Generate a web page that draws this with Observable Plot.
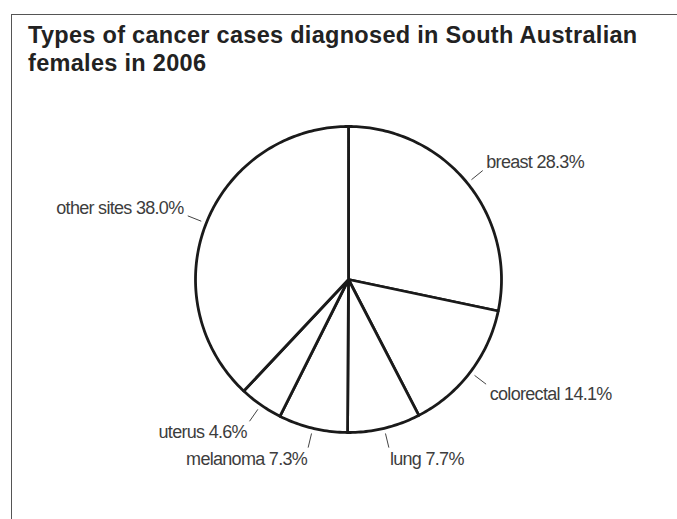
<!DOCTYPE html>
<html>
<head>
<meta charset="utf-8">
<script src="https://cdn.jsdelivr.net/npm/d3@7"></script>
<script src="https://cdn.jsdelivr.net/npm/@observablehq/plot@0.6"></script>
<style>
  html, body { margin: 0; padding: 0; background: #fff; }
  body { width: 677px; height: 519px; position: relative; overflow: hidden; font-family: "Liberation Sans", Arial, sans-serif; }
  #frame { position: absolute; left: 11px; top: 14px; width: 700px; height: 520px; border-left: 1.5px solid #555; border-top: 1.5px solid #555; box-sizing: border-box; }
  #title { position: absolute; left: 28px; top: 20.5px; font-weight: bold; font-size: 23.5px; line-height: 28px; color: #222; letter-spacing: 0.3px; white-space: nowrap; }
  #chart { position: absolute; left: 0; top: 80px; }
</style>
</head>
<body>
<div id="frame"></div>
<div id="title">Types of cancer cases diagnosed in South Australian<br>females in 2006</div>
<div id="chart"></div>
<script>
const categories = ["breast", "colorectal", "lung", "melanoma", "uterus", "other sites"];
const percents = [28.3, 14.1, 7.7, 7.3, 4.6, 38.0];

const data = categories.map((c, i) => ({name: c, value: percents[i]}));
const arcs = d3.pie().sort(null).value(d => d.value)(data);

// slice outlines (center -> arc -> center), from the pie angles
const slicePts = [];
arcs.forEach(a => {
  const n = Math.max(2, Math.ceil((a.endAngle - a.startAngle) / (Math.PI / 180)));
  slicePts.push({name: a.data.name, x: 0, y: 0});
  for (let k = 0; k <= n; k++) {
    const t = a.startAngle + (a.endAngle - a.startAngle) * k / n;
    slicePts.push({name: a.data.name, x: Math.sin(t), y: Math.cos(t)});
  }
});

const labels = arcs.map(a => {
  const m = (a.startAngle + a.endAngle) / 2;
  return {
    name: a.data.name,
    text: `${a.data.name} ${a.data.value.toFixed(1)}%`,
    x1: 1.035 * Math.sin(m), y1: 1.035 * Math.cos(m),
    x2: 1.13 * Math.sin(m), y2: 1.13 * Math.cos(m),
    tx: 1.16 * Math.sin(m), ty: 1.16 * Math.cos(m),
    right: Math.sin(m) >= 0,
    upper: Math.cos(m) >= 0
  };
});

const cx = 348, cy = 199, R = 153;
const H = 439;

const textOpts = {x: "tx", y: "ty", text: "text", fontSize: 18, fill: "#3d3d3d", fontFamily: "Liberation Sans, Arial, sans-serif"};
const q = (r, u) => labels.filter(d => d.right === r && d.upper === u);

const chart = Plot.plot({
  width: 677,
  height: H,
  margin: 0,
  x: {domain: [-1, 1], range: [cx - R, cx + R], axis: null},
  y: {domain: [-1, 1], range: [cy + R, cy - R], axis: null},
  marks: [
    Plot.line(slicePts, {x: "x", y: "y", z: "name", fill: "white", stroke: "#1a1a1a", strokeWidth: 2.8, curve: "linear-closed", strokeLinejoin: "round"}),
    Plot.link(labels, {x1: "x1", y1: "y1", x2: "x2", y2: "y2", stroke: "#444", strokeWidth: 1}),
    Plot.text(q(true, true), {...textOpts, textAnchor: "start", lineAnchor: "bottom"}),
    Plot.text(q(true, false), {...textOpts, textAnchor: "start", lineAnchor: "top"}),
    Plot.text(q(false, true), {...textOpts, textAnchor: "end", lineAnchor: "bottom"}),
    Plot.text(q(false, false), {...textOpts, textAnchor: "end", lineAnchor: "top"})
  ]
});
chart.style.letterSpacing = "-0.7px";
document.getElementById("chart").appendChild(chart);
</script>
</body>
</html>
